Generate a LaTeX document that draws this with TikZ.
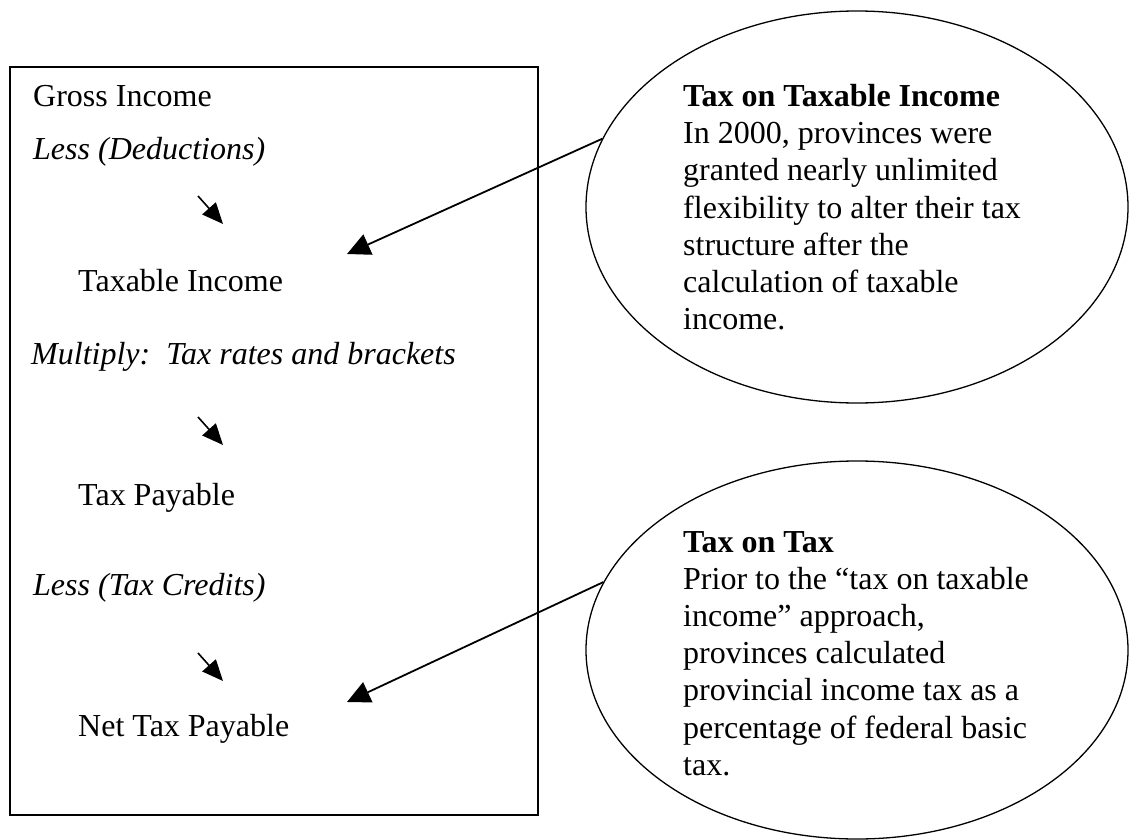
\documentclass[tikz,border=0pt]{standalone}
\usepackage{fontspec}
\setmainfont{Liberation Serif}
\usetikzlibrary{shapes.geometric,arrows.meta}

\begin{document}
\begin{tikzpicture}[x=1pt,y=-1pt,
  txt/.style={anchor=base west,inner sep=0pt,font=\fontsize{32}{37.2}\selectfont},
  note/.style={txt,anchor=north west,align=left},
  bubble/.style={ellipse,draw,line width=1.3pt,minimum width=542pt,minimum height=#1,inner sep=0pt},
  flow/.style={-{Triangle[length=21pt,width=18pt]},line width=1.6pt},
  link/.style={-{Triangle[length=23pt,width=22pt]},line width=1.8pt}]
\useasboundingbox (0,0) rectangle (1130,840);
\draw[line width=2pt] (10,67) rectangle (538,815);
% left column
\node[txt] (gross)    at (33,107) {Gross Income};
\node[txt] (lessded)  at (33,160) {\itshape Less (Deductions)};
\node[txt] (taxable)  at (78,291) {Taxable Income};
\node[txt] (multiply) at (31,364) {\itshape Multiply:\ \ Tax rates and brackets};
\node[txt] (payable)  at (78,505) {Tax Payable};
\node[txt] (lesscred) at (33,595) {\itshape Less (Tax Credits)};
\node[txt] (net)      at (78,736) {Net Tax Payable};
\foreach \y [count=\i] in {196,417,653} {
   \coordinate (s\i) at (198,\y);
   \coordinate (t\i) at (223,\y+28);
   \draw[flow] (s\i) -- (t\i);
}
% bubbles
\node[bubble=392pt] (e1) at (857,207) {};
\node[bubble=378pt] (e2) at (857,650) {};
\node[note] (n1) at (683,84) {\textbf{Tax on Taxable Income}\\
   In 2000, provinces were\\granted nearly unlimited\\
   flexibility to alter their tax\\structure after the\\
   calculation of taxable\\income.};
\node[note] (n2) at (683,531) {\textbf{Tax on Tax}\\
   Prior to the “tax on taxable\\income” approach,\\
   provinces calculated\\provincial income tax as a\\
   percentage of federal basic\\tax.};
\coordinate (p1) at (347,254);
\coordinate (p2) at (347,702);
\draw[link] (e1.165) -- (p1);
\draw[link] (e2.165) -- (p2);
\end{tikzpicture}
\end{document}
